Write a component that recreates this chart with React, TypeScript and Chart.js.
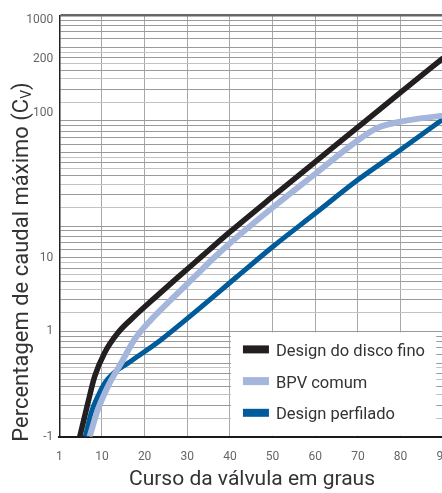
import { useEffect, useRef } from 'react';
import { Chart, registerables } from 'chart.js';

Chart.register(...registerables);

// ---- data (x = valve travel in degrees, y = position on the log paper) ----
const discX = [4.8, 6.7, 8.3, 10.6, 13.7, 17.6, 22.3, 27.7, 33.2, 40, 50, 60, 70, 80, 90];
const discY = [0.1, 0.209, 0.374, 0.624, 0.966, 1.39, 2.07, 3.24, 5.07, 8.81, 19.05, 40.7, 87.1, 186, 395];

const bpvX = [7.1, 9.05, 11.4, 14.5, 17.6, 21.5, 26.2, 31.6, 36.0, 40.2, 50.1, 60.1, 70, 74.4, 80, 90];
const bpvY = [0.1, 0.181, 0.301, 0.501, 0.834, 1.29, 2.0, 3.27, 4.9, 7.0, 15.1, 31.6, 65.3, 85, 98.3, 112];

const profX = [6.1, 7.5, 9.1, 10.8, 13, 16.1, 19.2, 23.8, 31.6, 41.7, 50.1, 60.1, 70, 80, 90];
const profY = [0.1, 0.17, 0.245, 0.33, 0.41, 0.5, 0.61, 0.83, 1.5, 3.32, 6.4, 13.3, 27.5, 53, 104];

const seriesLabels = ['Design do disco fino', 'BPV comum', 'Design perfilado'];
const seriesColors = ['#231f20', '#a4b6dc', '#005b9a'];

const xTickValues = [0, 10, 20, 30, 40, 50, 60, 70, 80, 90];
const xTickLabels = ['1', '10', '20', '30', '40', '50', '60', '70', '80', '90'];

const gridDecades = [0.1, 1, 10, 100];
const gridSteps = [1, 1.5, 2, 2.5, 3, 3.5, 4, 4.5, 5, 6, 7, 8, 9];
const yLabelValues = [0.1, 1, 5, 118, 384, 900];
const yLabelTexts = ['-1', '1', '10', '100', '200', '1000'];

const xTitle = 'Curso da válvula em graus';
const yTitleMain = 'Percentagem de caudal máximo (C';
const yTitleSub = 'V';
const yTitleEnd = ')';

const FONT = 'Roboto, "Noto Sans", sans-serif';

const gridValues: number[] = [];
gridDecades.forEach((d) => gridSteps.forEach((s) => gridValues.push(+(d * s).toPrecision(6))));
gridValues.push(1000);

const near = (a: number, b: number) => Math.abs(a - b) / b < 1e-6;
const isGrid = (v: number) => gridValues.some((g) => near(v, g));
const allY = Array.from(new Set([...gridValues, ...yLabelValues])).sort((a, b) => a - b);

const toPoints = (xs: number[], ys: number[]) => xs.map((x, i) => ({ x, y: ys[i] }));

const paperPlugin = {
  id: 'paper',
  beforeDatasetsDraw(chart: any) {
    const { ctx, chartArea, scales } = chart;
    const x = scales.x;
    const y = scales.y;
    const left = x.getPixelForValue(40) + 1;
    const top = y.getPixelForValue(1) + 1;
    const right = chartArea.right - 7;
    const bottom = chartArea.bottom - 1;
    ctx.save();
    ctx.fillStyle = '#ffffff';
    ctx.fillRect(left, top, right - left, bottom - top);
    ctx.font = `16.5px ${FONT}`;
    ctx.textBaseline = 'middle';
    ctx.textAlign = 'left';
    seriesLabels.forEach((lab, i) => {
      const cy = top + 17 + i * 31.7;
      ctx.fillStyle = seriesColors[i];
      ctx.fillRect(left + 12, cy - 4, 26, 8);
      ctx.fillStyle = '#333333';
      ctx.fillText(lab, left + 45, cy + 2.5);
    });
    ctx.restore();
  },
  afterDraw(chart: any) {
    const { ctx } = chart;
    ctx.save();
    ctx.fillStyle = '#333333';
    // x title
    ctx.font = `21px ${FONT}`;
    ctx.textAlign = 'center';
    ctx.textBaseline = 'middle';
    ctx.fillText(xTitle, 252, 480);
    // y title with subscript
    ctx.translate(22, 262);
    ctx.rotate(-Math.PI / 2);
    ctx.textAlign = 'left';
    ctx.font = `22px ${FONT}`;
    const w1 = ctx.measureText(yTitleMain).width;
    const w3 = ctx.measureText(yTitleEnd).width;
    ctx.font = `14px ${FONT}`;
    const w2 = ctx.measureText(yTitleSub).width;
    const start = -(w1 + w2 + w3) / 2;
    ctx.font = `22px ${FONT}`;
    ctx.fillText(yTitleMain, start, 0);
    ctx.font = `14px ${FONT}`;
    ctx.fillText(yTitleSub, start + w1, 5);
    ctx.font = `22px ${FONT}`;
    ctx.fillText(yTitleEnd, start + w1 + w2, 0);
    ctx.restore();
  },
};

export default function App() {
  const ref = useRef<HTMLCanvasElement | null>(null);

  useEffect(() => {
    if (!ref.current) return;
    const mk = (i: number, xs: number[], ys: number[], w: number) => ({
      label: seriesLabels[i],
      data: toPoints(xs, ys),
      borderColor: seriesColors[i],
      backgroundColor: seriesColors[i],
      borderWidth: w,
      pointRadius: 0,
      cubicInterpolationMode: 'monotone' as const,
      borderCapStyle: 'butt' as const,
      borderJoinStyle: 'round' as const,
      clip: 0,
    });
    const chart = new Chart(ref.current, {
      type: 'line',
      data: {
        datasets: [
          mk(0, discX, discY, 5.5),
          mk(1, bpvX, bpvY, 6),
          mk(2, profX, profY, 5),
        ],
      },
      plugins: [paperPlugin],
      options: {
        responsive: false,
        maintainAspectRatio: false,
        devicePixelRatio: 1,
        animation: false,
        layout: { padding: { top: 15.5, right: 0, left: 0, bottom: 0 } },
        plugins: { legend: { display: false }, tooltip: { enabled: false } },
        scales: {
          x: {
            type: 'linear',
            min: 0,
            max: 90,
            afterBuildTicks: (s: any) => {
              s.ticks = xTickValues.map((v) => ({ value: v }));
            },
            afterFit: (s: any) => {
              s.height = 56.3;
            },
            ticks: {
              autoSkip: false,
              maxRotation: 0,
              padding: 13,
              color: '#666666',
              font: { family: FONT, size: 12 },
              callback: (v: any) => {
                const i = xTickValues.indexOf(Number(v));
                return i >= 0 ? xTickLabels[i] : '';
              },
            },
            grid: { color: '#a8a8a8', lineWidth: 1, drawTicks: false },
            border: { display: true, color: '#1a1a1a', width: 2 },
          },
          y: {
            type: 'logarithmic',
            min: 0.1,
            max: 1000,
            afterBuildTicks: (s: any) => {
              s.ticks = allY.map((v) => ({ value: v }));
            },
            afterFit: (s: any) => {
              s.width = 59.3;
            },
            ticks: {
              autoSkip: false,
              padding: 6,
              color: '#666666',
              font: { family: FONT, size: 12 },
              callback: (v: any) => {
                const i = yLabelValues.findIndex((l) => near(Number(v), l));
                return i >= 0 ? yLabelTexts[i] : '';
              },
            },
            grid: {
              drawTicks: false,
              color: (c: any) => {
                const v = c.tick ? c.tick.value : 0;
                if (!isGrid(v)) return 'rgba(0,0,0,0)';
                if (near(v, 1000)) return '#666666';
                const m = v / Math.pow(10, Math.floor(Math.log10(v) + 1e-9));
                return Math.abs(m - Math.round(m)) > 0.01 ? '#c2c2c2' : '#9a9a9a';
              },
              lineWidth: (c: any) => {
                const v = c.tick ? c.tick.value : 0;
                return near(v, 1000) ? 2.5 : 1;
              },
            },
            border: { display: true, color: '#222222', width: 1.5 },
          },
        },
      },
    });
    return () => chart.destroy();
  }, []);

  return (
    <div style={{ position: 'absolute', left: 0, top: 0, width: 442, height: 493, overflow: 'hidden', background: '#fff' }}>
      <canvas ref={ref} width={463} height={493} style={{ display: 'block' }} />
    </div>
  );
}
